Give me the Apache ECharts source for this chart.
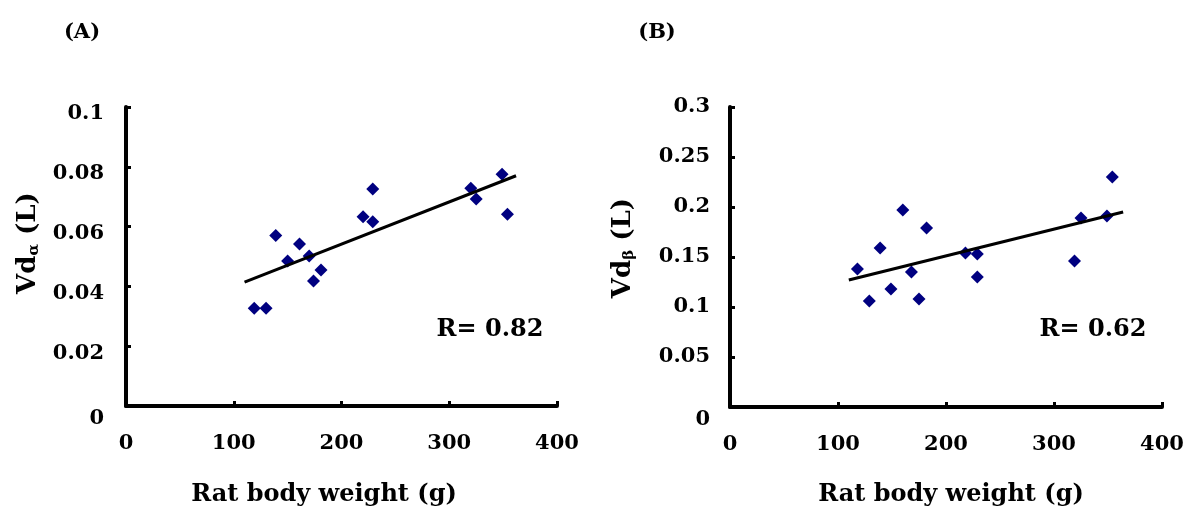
<!DOCTYPE html>
<html><head><meta charset="utf-8">
<script src="https://cdn.jsdelivr.net/npm/echarts@6/dist/echarts.min.js"></script>
<style>html,body{margin:0;padding:0;background:#fff}#c{width:1192px;height:509px}</style>
</head><body><div id="c"></div>
<script>
// Panel A data: rat body weight (g) vs Vd alpha (L)
const weightA = [119, 130, 139, 150, 161, 170, 174, 181, 220, 229, 229, 320, 325, 349, 354];
const vdAlpha = [0.0327, 0.0327, 0.0570, 0.0485, 0.0542, 0.0502, 0.0418, 0.0455, 0.0633, 0.0726, 0.0616, 0.0728, 0.0692, 0.0775, 0.0641];
const trendA = [[110, 0.0414], [362, 0.0770]];
// Panel B data: rat body weight (g) vs Vd beta (L)
const weightB = [118, 129, 139, 149, 160, 168, 175, 182, 218, 229, 229, 319, 325, 349, 354];
const vdBeta = [0.138, 0.106, 0.159, 0.118, 0.197, 0.135, 0.108, 0.179, 0.154, 0.153, 0.130, 0.146, 0.189, 0.191, 0.230];
const trendB = [[110, 0.127], [364, 0.195]];
const xTicks = [0, 100, 200, 300, 400];
const rA = 'R= 0.82', rB = 'R= 0.62';

const FONT = '"DejaVu Serif", serif';
const lbl = {color:'#000', fontFamily:FONT, fontWeight:'bold', fontSize:21};
function xAxis(gi){
  return {type:'value', gridIndex:gi, min:xTicks[0], max:xTicks[xTicks.length-1], interval:100,
    axisLine:{show:true, onZero:false, lineStyle:{color:'#000', width:4}},
    axisTick:{show:true, inside:true, length:5, lineStyle:{color:'#000', width:3}},
    splitLine:{show:false}, axisLabel:Object.assign({margin:27}, lbl)};
}
function yAxis(gi, max, step, margin, shift){
  const base = Object.assign({}, lbl);
  return {type:'value', gridIndex:gi, min:0, max:max, interval:step,
    axisLine:{show:true, onZero:false, lineStyle:{color:'#000', width:4}},
    axisTick:{show:true, inside:true, length:5, lineStyle:{color:'#000', width:3}},
    splitLine:{show:false},
    axisLabel:Object.assign({margin:margin,
      formatter:v => v === 0 ? '{z|0}' : '{n|' + v + '}',
      rich:{n:Object.assign({padding:[shift*2,0,0,0]}, base), z:Object.assign({padding:[26,0,0,0]}, base)}}, lbl)};
}
const zip = (a,b)=>a.map((v,i)=>[v,b[i]]);
const chart = echarts.init(document.getElementById('c'));
const titleStyle = {fontFamily:FONT, fontWeight:'bold', fontSize:21, fill:'#000'};
function yTitle(x, y, sub){
  return {type:'text', x:x, y:y, rotation:Math.PI/2,
    style:{text:'{a|Vd}{s|'+sub+'}{a| (L)}', align:'center', verticalAlign:'middle',
      rich:{a:{fontFamily:FONT, fontWeight:'bold', fontSize:26, fill:'#000', color:'#000'},
            s:{fontFamily:FONT, fontWeight:'bold', fontSize:15, fill:'#000', color:'#000', padding:[12,0,0,0]}}}};
}
chart.setOption({
  animation:false,
  grid:[{left:126, right:635, top:107, bottom:103},{left:730, right:30, top:107, bottom:102}],
  xAxis:[xAxis(0), xAxis(1)],
  yAxis:[yAxis(0, 0.1, 0.02, 22, 7), yAxis(1, 0.3, 0.05, 20, 0)],
  series:[
    {type:'scatter', xAxisIndex:0, yAxisIndex:0, data:zip(weightA, vdAlpha), symbol:'diamond', symbolSize:13, itemStyle:{color:'#000080', opacity:1}},
    {type:'line', xAxisIndex:0, yAxisIndex:0, data:trendA, symbol:'none', lineStyle:{color:'#000', width:3}},
    {type:'scatter', xAxisIndex:1, yAxisIndex:1, data:zip(weightB, vdBeta), symbol:'diamond', symbolSize:13, itemStyle:{color:'#000080', opacity:1}},
    {type:'line', xAxisIndex:1, yAxisIndex:1, data:trendB, symbol:'none', lineStyle:{color:'#000', width:3}}
  ],
  graphic:[
    {type:'text', x:82, y:33, style:Object.assign({text:'(A)', align:'center', verticalAlign:'middle'}, titleStyle)},
    {type:'text', x:657, y:33, style:Object.assign({text:'(B)', align:'center', verticalAlign:'middle'}, titleStyle)},
    {type:'text', x:490, y:330, style:Object.assign({text:rA, align:'center', verticalAlign:'middle'}, titleStyle, {fontSize:24})},
    {type:'text', x:1093, y:330, style:Object.assign({text:rB, align:'center', verticalAlign:'middle'}, titleStyle, {fontSize:24})},
    {type:'text', x:324, y:495, style:Object.assign({text:'Rat body weight (g)', align:'center', verticalAlign:'middle'}, titleStyle, {fontSize:24})},
    {type:'text', x:951, y:495, style:Object.assign({text:'Rat body weight (g)', align:'center', verticalAlign:'middle'}, titleStyle, {fontSize:24})},
    yTitle(28, 243, 'α'),
    yTitle(623, 248, 'β')
  ]
});
</script></body></html>
